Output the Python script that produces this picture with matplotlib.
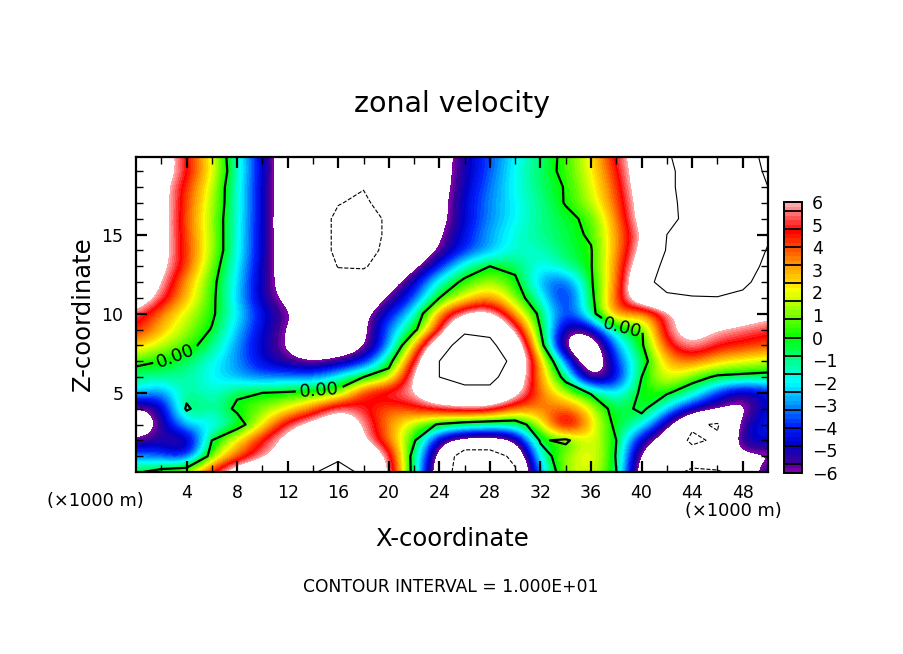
import numpy as np
import matplotlib
matplotlib.use("Agg")
import matplotlib.pyplot as plt
from matplotlib.colors import LinearSegmentedColormap, BoundaryNorm

# grid of the field
x_km = list(range(0, 51, 2))
z_km = list(range(0, 21))

# one row per height, z = 0 first, x = 0..50 km
zonal = [
    [-0.3, 0.8, 1.8, 5, 8, 9, 9.5, 9.8, 11, 9.5, 6.5, -1, -8, -12, -12, -10.5, -2.5, 1.5, 2, 0, -8, -9, -10.5, -10.5, -8, -4.5],
    [-3, -3.5, -5, 1, 3.5, 5.5, 7, 8, 9.5, 9, 5.8, -1, -7, -12, -12, -9, -1.2, 1.5, 2.5, -0.1, -7, -8, -8.5, -6.5, -6.5, -6.5],
    [-5.9, -5, -6.5, 0, 2.5, 5, 7, 8, 9, 6.2, 3.5, 0.3, -5.5, -7, -7, -6.5, 0.3, -0.5, 2.5, 0, -5.2, -7.5, -10.6, -9.5, -4.5, -4.5],
    [-8, -5.5, -2, -2.5, -1, 2, 5.5, 7, 8, 6, 3.2, 1.2, -0.2, -1, -1.5, -1.2, 1.5, 7, 2.5, -0.5, -1.2, -5.5, -9.5, -10.3, -5, -4],
    [-6.5, -5.5, 0.3, -1.5, 0.4, 1, 2, 3.5, 6.3, 4.8, 3.5, 4.5, 5.2, 6, 6, 3.5, 3.5, 4, 2, -1, 0.5, -2.2, -4.8, -5.9, -7, -4],
    [-2, -3.5, -0.6, -2, -0.3, 0, 0.2, 0.5, 0.6, 5, 5.8, 5.8, 9, 9, 9, 7, 3.5, 1.5, -0.2, -2.5, 0.4, 0.2, -1.2, -4, -5.7, -4.5],
    [-1, -1, -1.2, -2, -2.8, -3.4, -3, -3.2, -1.8, 0, 1, 6.5, 10, 11, 11, 8, 3, -0.7, -7, -5, 0, 2.5, 0.8, -0.3, -0.5, -0.6],
    [0.5, 0, -0.6, -1.8, -3, -4.6, -5.6, -6.3, -5.5, -4.5, -0.8, 5, 10, 12, 12, 9, 3, -3, -9, -3.5, -1, 3, 3.8, 2.5, 2, 1.5],
    [2.8, 1.5, 0.6, -0.8, -3, -4.9, -6.2, -8, -8, -6.5, -3.3, 3, 8.5, 11.5, 10.5, 8.5, 1, -7.5, -8.5, -2.5, -0.3, 4.5, 6.3, 4.8, 4.5, 4],
    [4.8, 2.8, 1.3, -0.1, -2.5, -4.7, -6, -8, -8.5, -6.7, -3, -0.6, 4.6, 9.4, 9.5, 6, 0, -5.8, -5.5, -0.5, -0.2, 6, 7, 6, 5.5, 5],
    [5.5, 3.4, 1.7, 0.3, -2, -4.4, -5.8, -7, -7.5, -6.8, -4.2, -2, 3.8, 6.3, 7, 3, -0.5, -4.4, -1, 4.5, 2.5, 5.5, 7, 8, 7.5, 6.5],
    [8, 5.3, 2.8, 0.4, -2.4, -5.2, -6.5, -8, -8.5, -8, -5.8, -3.8, 0, 2, 3.5, 1, -1.6, -5, -0.5, 4, 8.5, 9.5, 9.8, 9.9, 9.5, 8.5],
    [8.5, 6.1, 3, 0.5, -2.2, -5.2, -7, -7.5, -9, -9, -6.9, -4.8, -1.3, 0.4, 1.6, 0.4, -3, -4, -0.2, 3.3, 9, 11, 11.5, 11.3, 10.5, 9],
    [9.5, 6.6, 4.2, 0.9, -2, -5, -7.2, -8, -10.1, -10.2, -9, -6.5, -4.2, -1.2, 0, -0.5, -2.2, -1, -0.1, 3.5, 7.5, 11, 11.5, 11.5, 10.8, 9.6],
    [10, 6.8, 4.2, 1.4, -1.7, -4.8, -7.5, -8.7, -10.5, -10.6, -9.6, -8, -5.8, -4, -2.8, -1.5, -1.6, -0.5, -0.1, 3.2, 6.6, 10.2, 11, 11.3, 11, 9.9],
    [10, 6.9, 4, 1.4, -1.7, -4.8, -7.6, -8.7, -10.5, -10.8, -9.7, -8, -6.3, -4.2, -2.7, -1.6, -1, -0.5, 0.2, 3.2, 6, 10, 10.7, 11.3, 11.2, 10.2],
    [10, 7, 3.8, 1.3, -1.6, -4.8, -7.6, -8.7, -10.5, -10.8, -9.7, -8, -6.8, -4.6, -3, -2, -1, -0.4, 0.4, 3.4, 7, 9.4, 10.7, 11.2, 11.3, 10.6],
    [10, 7, 4, 1.5, -1.5, -4.8, -7.6, -8.8, -9.9, -10.4, -9, -8, -6.8, -4.5, -3, -2, -1, 0.1, 1.5, 3.8, 7, 9.5, 10.7, 11.2, 11, 10.5],
    [9.5, 6.8, 4.2, 1.7, -1.6, -4.8, -7.6, -8.5, -9.7, -9.9, -8.5, -8, -7, -4.8, -3.2, -1.8, -0.8, 0.1, 1.8, 4, 7.5, 9.6, 10.8, 11, 11, 10],
    [9, 7.5, 4.8, 2.2, -1.4, -4.7, -7.5, -8, -8.5, -8.5, -8, -8, -7, -5, -3.5, -1.8, -0.7, 0.4, 2, 4.5, 7.5, 9.7, 10.6, 11, 11, 9.7],
    [9, 7.5, 4.6, 2.0, -1.5, -4.8, -7.5, -8, -8.5, -8.5, -8, -8, -7.2, -5, -3.6, -2, -0.8, 0.4, 2.2, 5, 7.5, 9.9, 10.5, 11, 10.8, 9.5],
]

bar_ticks = [-6, -5, -4, -3, -2, -1, 0, 1, 2, 3, 4, 5, 6]
x_ticks = [4, 8, 12, 16, 20, 24, 28, 32, 36, 40, 44, 48]
z_ticks = [5, 10, 15]

# colours at the breaks of the colour bar
stop_values = [-6, -5.6, -4.8, -4, -3.2, -2.4, -2, -1.6, -0.8, 0, 0.8, 1.6, 2.2, 2.4, 3.2, 4, 4.8, 5.6, 6]
stop_colors = ["#7a00a8", "#3a0098", "#0000c8", "#0020ff", "#0080ff", "#00d8ff", "#00ffff",
               "#00ffd0", "#00ff70", "#00ff00", "#60ff00", "#c0ff00", "#ffff00", "#ffe000",
               "#ffa000", "#ff5000", "#ff0000", "#ff7070", "#ffa8a8"]

stops = [((v + 6) / 12, c) for v, c in zip(stop_values, stop_colors)]
cmap = LinearSegmentedColormap.from_list("rain", stops, N=60).with_extremes(under="white", over="white")
levels = np.arange(-6, 6.01, 0.2)
norm = BoundaryNorm(levels, cmap.N)

fig = plt.figure(figsize=(9.04, 6.54), dpi=100)
W, H = 904.0, 654.0
ax = fig.add_axes([136 / W, 1 - 472 / H, 632 / W, 315 / H])

# smooth shading, values outside +-6 stay white
im = ax.imshow(zonal, origin="lower", extent=(-1, 51, -0.5, 20.5), aspect="auto",
               cmap=cmap, norm=norm, interpolation="bicubic", interpolation_stage="data")

# contour lines every 10, zero is the heavy one
ax.contour(x_km, z_km, zonal, levels=[-10], colors="k", linewidths=0.8, linestyles="--")
ax.contour(x_km, z_km, zonal, levels=[10], colors="k", linewidths=0.8, linestyles="-")
zero = ax.contour(x_km, z_km, zonal, levels=[0], colors="k", linewidths=1.6, linestyles="-")
ax.clabel(zero, fmt="%.2f", fontsize=13, inline=True, inline_spacing=3,
          manual=[(3.2, 7.2), (14.5, 5.3), (38.5, 9.2)])

ax.set_xlim(0, 50)
ax.set_ylim(0, 19.9)
ax.set_xticks(x_ticks)
ax.set_yticks(z_ticks)
ax.set_xticks(list(range(2, 50, 4)), minor=True)
ax.set_yticks([v for v in range(1, 20) if v % 5], minor=True)
ax.tick_params(which="major", direction="in", length=8, width=1.6, top=True, right=True, labelsize=12.5, pad=9)
ax.tick_params(which="minor", direction="in", length=5, width=1.0, top=True, right=True)
for s in ax.spines.values():
    s.set_linewidth(1.6)

# colour bar
cax = fig.add_axes([784 / W, 1 - 473 / H, 18 / W, 271 / H])
cb = fig.colorbar(im, cax=cax, ticks=bar_ticks, extend="neither")
cb.ax.minorticks_off()
cb.ax.tick_params(length=0, labelsize=12.5, pad=7)
cb.outline.set_linewidth(1.4)
for v in np.arange(-5.6, 5.7, 0.8):
    cax.axhline(v, color="k", lw=1.3)

fig.text(452 / W, 1 - 104 / H, "zonal velocity", fontsize=20.5, ha="center", va="center")
fig.text(452 / W, 1 - 539 / H, "X-coordinate", fontsize=17.5, ha="center", va="center")
fig.text(83 / W, 1 - 314 / H, "Z-coordinate", fontsize=17.5, rotation=90, ha="center", va="center")
fig.text(95 / W, 1 - 501 / H, "(\u00d71000 m)", fontsize=12.8, ha="center", va="center")
fig.text(733 / W, 1 - 511 / H, "(\u00d71000 m)", fontsize=12.8, ha="center", va="center")
fig.text(451 / W, 1 - 587 / H, "CONTOUR INTERVAL = 1.000E+01", fontsize=12.3, ha="center", va="center")

fig.savefig("out.png", dpi=100)
